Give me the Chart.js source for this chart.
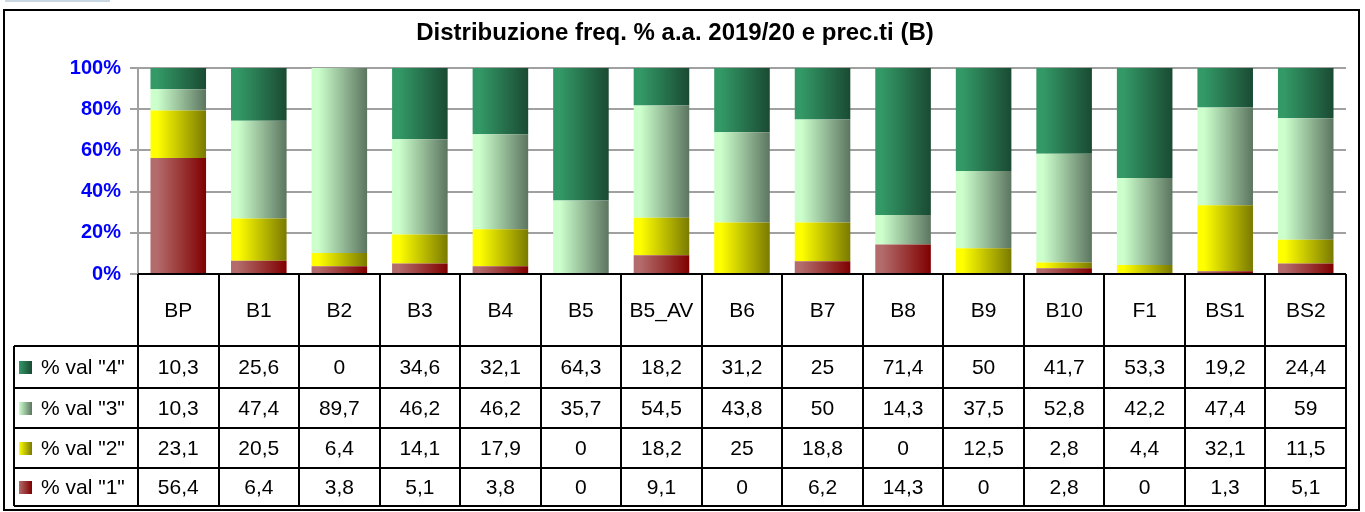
<!DOCTYPE html>
<html>
<head>
<meta charset="utf-8">
<script src="https://cdn.jsdelivr.net/npm/chart.js@4.4.1/dist/chart.umd.min.js"></script>
<style>
  html, body { margin: 0; padding: 0; background: #fff; }
  #wrap { width: 1365px; height: 512px; position: relative; }
</style>
</head>
<body>
<div id="wrap"><canvas id="chart"></canvas></div>
<script>
const categories = ['BP', 'B1', 'B2', 'B3', 'B4', 'B5', 'B5_AV', 'B6', 'B7', 'B8', 'B9', 'B10', 'F1', 'BS1', 'BS2'];
const val4 = [10.3, 25.6, 0, 34.6, 32.1, 64.3, 18.2, 31.2, 25, 71.4, 50, 41.7, 53.3, 19.2, 24.4];
const val3 = [10.3, 47.4, 89.7, 46.2, 46.2, 35.7, 54.5, 43.8, 50, 14.3, 37.5, 52.8, 42.2, 47.4, 59];
const val2 = [23.1, 20.5, 6.4, 14.1, 17.9, 0, 18.2, 25, 18.8, 0, 12.5, 2.8, 4.4, 32.1, 11.5];
const val1 = [56.4, 6.4, 3.8, 5.1, 3.8, 0, 9.1, 0, 6.2, 14.3, 0, 2.8, 0, 1.3, 5.1];
const seriesNames = ['% val "4"', '% val "3"', '% val "2"', '% val "1"'];
const yTicks = [0, 20, 40, 60, 80, 100];

const FONT = "'Liberation Sans', Arial, sans-serif";
const BAR_PCT = 0.69;

// 100% stacked: each column is scaled to its own total, like the spreadsheet does
const totals = categories.map((c, i) => val1[i] + val2[i] + val3[i] + val4[i]);
const pct = arr => arr.map((v, i) => totals[i] ? v / totals[i] * 100 : 0);

// light on the left, dark on the right
const colors = {
  v4: ['#339966', '#1a4a33'],
  v3: ['#ccffcc', '#5c7560'],
  v2: ['#ffff00', '#7a7a00'],
  v1: ['#b36b6b', '#800000']
};

function barGradient(c0, c1) {
  return ctx => {
    const chart = ctx.chart;
    const xs = chart.scales.x;
    if (!xs || !chart.chartArea) return c0;
    const cx = xs.getPixelForValue(ctx.dataIndex);
    const w = xs.width / categories.length * BAR_PCT;
    const g = chart.ctx.createLinearGradient(cx - w / 2, 0, cx + w / 2, 0);
    g.addColorStop(0, c0);
    g.addColorStop(0.12, c0);
    g.addColorStop(1, c1);
    return g;
  };
}

// data table under the plot, plus title and frame
const tablePlugin = {
  id: 'dataTable',
  afterDraw(chart) {
    const c = chart.ctx;
    const area = chart.chartArea;
    const xs = chart.scales.x;
    const n = categories.length;
    const colW = xs.width / n;
    const headTop = area.bottom;
    const rowY = [346, 388, 428, 468, 506];
    const legLeft = 14;

    c.save();

    // thin strip at the top left
    c.fillStyle = '#c9d7e3';
    c.fillRect(5, 0, 105, 2);

    // outer frame
    c.strokeStyle = '#000';
    c.lineWidth = 2;
    c.strokeRect(4, 10, 1355, 500);

    // title
    c.fillStyle = '#000';
    c.font = 'bold 24px ' + FONT;
    c.textAlign = 'center';
    c.textBaseline = 'middle';
    c.fillText('Distribuzione freq. % a.a. 2019/20 e prec.ti (B)', 675, 33);

    // grid of the table
    c.beginPath();
    c.moveTo(area.left, headTop);
    c.lineTo(area.right, headTop);
    rowY.forEach(y => {
      c.moveTo(legLeft, y);
      c.lineTo(area.right, y);
    });
    for (let k = 0; k <= n; k++) {
      const x = Math.round(area.left + k * colW);
      c.moveTo(x, headTop);
      c.lineTo(x, rowY[rowY.length - 1]);
    }
    c.moveTo(legLeft, rowY[0]);
    c.lineTo(legLeft, rowY[rowY.length - 1]);
    c.stroke();

    // category labels
    c.font = '21px ' + FONT;
    c.fillStyle = '#000';
    categories.forEach((lab, i) => {
      c.fillText(lab, xs.getPixelForValue(i), (headTop + rowY[0]) / 2 + 1);
    });

    // rows: val4 at top, val1 at bottom
    const rows = [val4, val3, val2, val1];
    const rowColors = [colors.v4, colors.v3, colors.v2, colors.v1];
    rows.forEach((arr, r) => {
      const cy = (rowY[r] + rowY[r + 1]) / 2 + 1;
      arr.forEach((v, i) => {
        c.textAlign = 'center';
        c.fillText(String(v).replace('.', ','), xs.getPixelForValue(i), cy);
      });
      const g = c.createLinearGradient(19, 0, 32, 0);
      g.addColorStop(0, rowColors[r][0]);
      g.addColorStop(1, rowColors[r][1]);
      c.fillStyle = g;
      c.fillRect(19, cy - 7, 13, 13);
      c.fillStyle = '#000';
      c.textAlign = 'left';
      c.fillText(seriesNames[r], 41, cy);
    });

    c.restore();
  }
};

new Chart(document.getElementById('chart'), {
  type: 'bar',
  data: {
    labels: categories,
    datasets: [
      { label: seriesNames[3], data: pct(val1), backgroundColor: barGradient(...colors.v1) },
      { label: seriesNames[2], data: pct(val2), backgroundColor: barGradient(...colors.v2) },
      { label: seriesNames[1], data: pct(val3), backgroundColor: barGradient(...colors.v3) },
      { label: seriesNames[0], data: pct(val4), backgroundColor: barGradient(...colors.v4) }
    ]
  },
  options: {
    responsive: true,
    maintainAspectRatio: false,
    animation: false,
    layout: { padding: { top: 68, bottom: 238, right: 19, left: 0 } },
    datasets: { bar: { barPercentage: BAR_PCT, categoryPercentage: 1, borderWidth: 0 } },
    plugins: {
      legend: { display: false },
      tooltip: { enabled: false },
      title: { display: false }
    },
    scales: {
      x: { stacked: true, display: false, offset: true },
      y: {
        stacked: true,
        min: 0,
        max: 100,
        afterFit: s => { s.width = 138; },
        afterBuildTicks: s => { s.ticks = yTicks.map(v => ({ value: v })); },
        ticks: {
          padding: 9,
          color: '#0000ff',
          font: { family: FONT, size: 20, weight: 'bold' },
          callback: v => v + '%'
        },
        grid: { color: '#a0a0a0', lineWidth: 2, tickLength: 8, tickColor: '#a0a0a0' },
        border: { color: '#a0a0a0', width: 2 }
      }
    }
  },
  plugins: [tablePlugin]
});
</script>
</body>
</html>
